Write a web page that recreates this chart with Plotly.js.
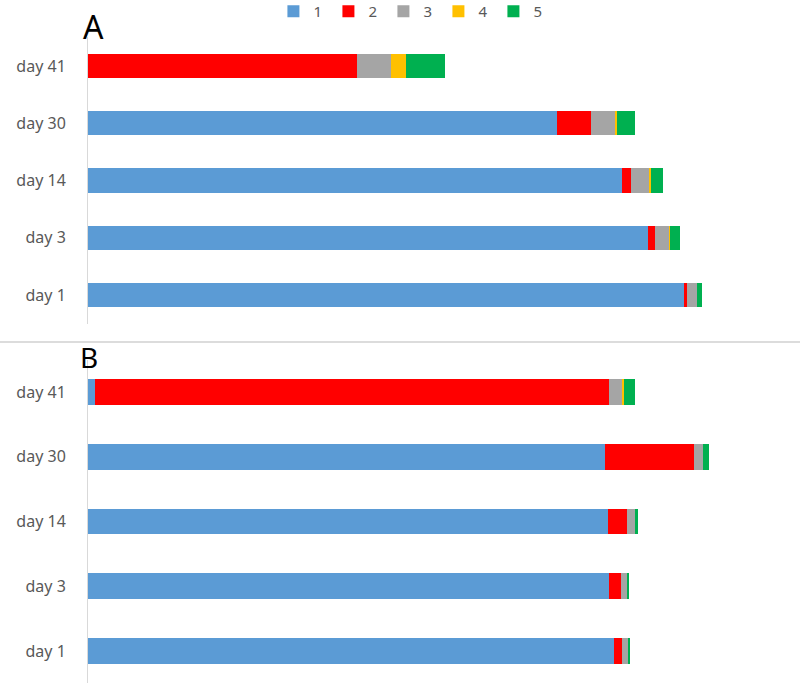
<!DOCTYPE html>
<html>
<head>
<meta charset="utf-8">
<script src="https://cdn.plot.ly/plotly-3.0.1.min.js"></script>
<style>html,body{margin:0;padding:0;background:#fff;}#chart{width:800px;height:685px;}</style>
</head>
<body>
<div id="chart"></div>
<script>
// categories (bottom to top)
var days = ['day 1', 'day 3', 'day 14', 'day 30', 'day 41'];
var seriesNames = ['1', '2', '3', '4', '5'];
var colors = ['#5B9BD5', '#FF0000', '#A5A5A5', '#FFC000', '#00B050'];

// Panel A values
var a1 = [596, 560, 534, 469, 0];
var a2 = [3, 7, 9, 34, 269];
var a3 = [10, 14, 18, 24, 34];
var a4 = [0, 1, 2, 2, 15];
var a5 = [5, 10, 12, 18, 39];

// Panel B values
var b1 = [526, 521, 520, 517, 7];
var b2 = [8, 12, 19, 89, 514];
var b3 = [6, 6, 8, 9, 13];
var b4 = [0, 0, 0, 0, 2];
var b5 = [2, 2, 3, 6, 11];

var panelA = [a1, a2, a3, a4, a5];
var panelB = [b1, b2, b3, b4, b5];

var traces = [];
for (var k = 0; k < 5; k++) {
  traces.push({
    type: 'bar', orientation: 'h', y: days, x: panelA[k], name: seriesNames[k],
    marker: {color: colors[k]}, width: 0.42, xaxis: 'x', yaxis: 'y',
    legendgroup: 's' + k, showlegend: true, hoverinfo: 'x+y+name'
  });
}
for (var k = 0; k < 5; k++) {
  traces.push({
    type: 'bar', orientation: 'h', y: days, x: panelB[k], name: seriesNames[k],
    marker: {color: colors[k]}, width: 0.40, xaxis: 'x2', yaxis: 'y2',
    legendgroup: 's' + k, showlegend: false, hoverinfo: 'x+y+name'
  });
}

var H = 685;
function py(p) { return 1 - p / H; }

var yCommon = {
  type: 'category', categoryorder: 'array', categoryarray: days,
  range: [-0.5, 4.5], showline: true, linecolor: '#d9d9d9', linewidth: 1,
  showgrid: false, zeroline: false, ticks: '', ticklabelstandoff: 18,
  tickfont: {family: 'Noto Sans', size: 16, color: '#595959'}, fixedrange: true
};
var xCommon = {range: [0, 702], visible: false, showgrid: false, zeroline: false, fixedrange: true};

var layout = {
  width: 800, height: 685,
  margin: {l: 88, r: 10, t: 0, b: 0, autoexpand: false},
  paper_bgcolor: '#fff', plot_bgcolor: 'rgba(0,0,0,0)',
  barmode: 'stack',
  showlegend: true,
  legend: {
    orientation: 'h', x: 0.46, xanchor: 'center', y: py(-5), yanchor: 'top',
    font: {family: 'Noto Sans', size: 15, color: '#595959'},
    entrywidth: 10, entrywidthmode: 'pixels', itemwidth: 30, bgcolor: 'rgba(0,0,0,0)',
    traceorder: 'normal', borderwidth: 0
  },
  xaxis: Object.assign({}, xCommon, {domain: [0, 1], anchor: 'y'}),
  xaxis2: Object.assign({}, xCommon, {domain: [0, 1], anchor: 'y2'}),
  yaxis: Object.assign({}, yCommon, {domain: [py(323.6), py(37.4)], anchor: 'x'}),
  yaxis2: Object.assign({}, yCommon, {domain: [py(683.4), py(359.6)], anchor: 'x2'}),
  shapes: [{
    type: 'line', xref: 'paper', yref: 'paper',
    x0: -88 / 702, x1: 712 / 702, y0: py(342), y1: py(342),
    line: {color: '#d0d0d0', width: 1.5}
  }],
  annotations: [
    {text: 'A', xref: 'paper', yref: 'paper', x: 5 / 702, y: py(26), xanchor: 'center', yanchor: 'middle',
     showarrow: false, font: {family: 'Noto Sans', size: 32, color: '#000'}},
    {text: 'B', xref: 'paper', yref: 'paper', x: 1 / 702, y: py(357), xanchor: 'center', yanchor: 'middle',
     showarrow: false, font: {family: 'Noto Sans', size: 28, color: '#000'}}
  ]
};

Plotly.newPlot('chart', traces, layout, {displayModeBar: false, staticPlot: true});
</script>
</body>
</html>
